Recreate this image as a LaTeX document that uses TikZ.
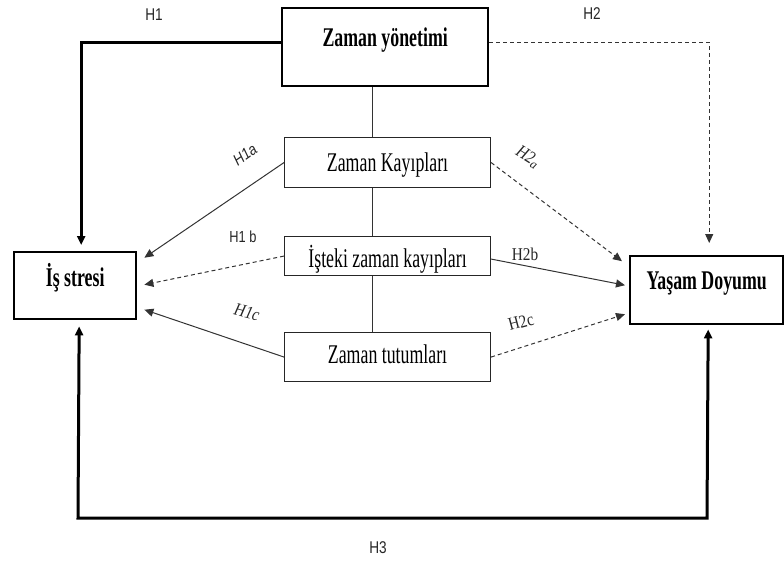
\documentclass[tikz,border=0pt]{standalone}
\usepackage{fontspec}
\usetikzlibrary{arrows.meta,calc}
\setmainfont{Liberation Serif}
\newfontfamily\bcond[FakeStretch=0.66]{Liberation Serif Bold}
\newfontfamily\rcond[FakeStretch=0.66]{Liberation Serif}
\newfontfamily\rlcond[FakeStretch=0.85]{Liberation Serif}
\newfontfamily\icond[FakeStretch=0.85]{Liberation Serif Italic}
\newfontfamily\scond[FakeStretch=0.8]{Liberation Sans}
\newfontfamily\sicond[FakeStretch=0.85]{Liberation Sans Italic}
\tikzset{
  bigbox/.style={draw=black, line width=2.4pt, inner sep=0pt, anchor=north west, font=\bcond\fontsize{27}{29}\selectfont},
  midbox/.style={draw=black!85, line width=1.1pt, inner sep=0pt, anchor=north west, font=\rcond\fontsize{27}{29}\selectfont},
  tip/.style={-{Triangle[length=9pt,width=8pt]}},
  thin/.style={line width=1pt, draw=black!80},
  thinarrow/.style={thin, tip},
  dasharrow/.style={thin, tip, dash pattern=on 4pt off 3pt},
  heavy/.style={line width=3pt, draw=black},
  hlab/.style={font=\scond\fontsize{17}{19}\selectfont, text=black!85},
  slab/.style={font=\scond\fontsize{16}{18}\selectfont, text=black!85},
  silab/.style={font=\sicond\fontsize{16}{18}\selectfont, text=black!85},
  rlab/.style={font=\rlcond\fontsize{18}{20}\selectfont, text=black!85},
  ilab/.style={font=\icond\fontsize{18}{20}\selectfont, text=black!85},
}
\begin{document}
\begin{tikzpicture}[x=1pt,y=-1pt]
\useasboundingbox (0,0) rectangle (784,566);
% boxes
\node[bigbox, minimum width=206pt, text height=38pt, text depth=40pt] (zy) at (281,7) {Zaman yönetimi};
\node[bigbox, minimum width=122pt, text height=34pt, text depth=33pt] (is) at (13,251) {İş stresi};
\node[bigbox, minimum width=153pt, text height=33pt, text depth=35pt] (yd) at (629,255) {Yaşam Doyumu};
\node[midbox, minimum width=206pt, text height=34pt, text depth=16pt] (zk) at (284,137) {Zaman Kayıpları};
\node[midbox, minimum width=206pt, text height=31pt, text depth=8pt] (ik) at (284,236) {İşteki zaman kayıpları};
\node[midbox, minimum width=206pt, text height=31pt, text depth=18pt] (zt) at (284,332) {Zaman tutumları};
% vertical spine
\coordinate (vx) at (372,0);
\draw[thin] (zy.south -| vx) -- (zk.north -| vx);
\draw[thin] (zk.south -| vx) -- (ik.north -| vx);
\draw[thin] (ik.south -| vx) -- (zt.north -| vx);
% H1
\draw[heavy, tip, shorten >=6pt] ([yshift=5pt]zy.west) -| ([xshift=6pt]is.north);
% H2
\draw[dasharrow, shorten >=12pt] ([yshift=5pt]zy.east) -| ([xshift=2.5pt]yd.north);
% H3
\coordinate (h3l) at (78,518);
\coordinate (h3r) at (707,518);
\draw[heavy, {Triangle[length=9pt,width=8pt]}-{Triangle[length=9pt,width=8pt]}, shorten <=6pt, shorten >=2pt]
  ([xshift=4pt]is.south) -- (h3l) -- (h3r) -- ([xshift=1.5pt,yshift=-2pt]yd.south);
% diagonals
\draw[thinarrow] (zk.west) -- ([shift={(7pt,28pt)}]is.east);
\draw[dasharrow] (ik.west) -- ([shift={(7pt,1pt)}]is.east);
\draw[thinarrow] (zt.west) -- ([shift={(7pt,-24pt)}]is.east);
\draw[dasharrow] (zk.east) -- ([shift={(-7pt,29pt)}]yd.west);
\draw[thinarrow] ([yshift=-3pt]ik.east) -- ([shift={(-4pt,5pt)}]yd.west);
\draw[dasharrow] (zt.east) -- ([shift={(-4pt,-24pt)}]yd.west);
% labels
\node[hlab] (lh1) at (154,15) {H1};
\node[hlab] (lh2) at (592,14) {H2};
\node[hlab] (lh3) at (378,548) {H3};
\node[silab, rotate=35] (lh1a) at (245,155) {H1a};
\node[slab] (lh1b) at (243,237) {H1 b};
\node[ilab, rotate=-15] (lh1c) at (247,312) {H1c};
\node[ilab, rotate=-32] (lh2a) at (528,157) {H2$_{\mathit{a}}$};
\node[rlab] (lh2b) at (525,254) {H2b};
\node[rlab, rotate=15] (lh2c) at (521,322) {H2c};
\end{tikzpicture}
\end{document}
